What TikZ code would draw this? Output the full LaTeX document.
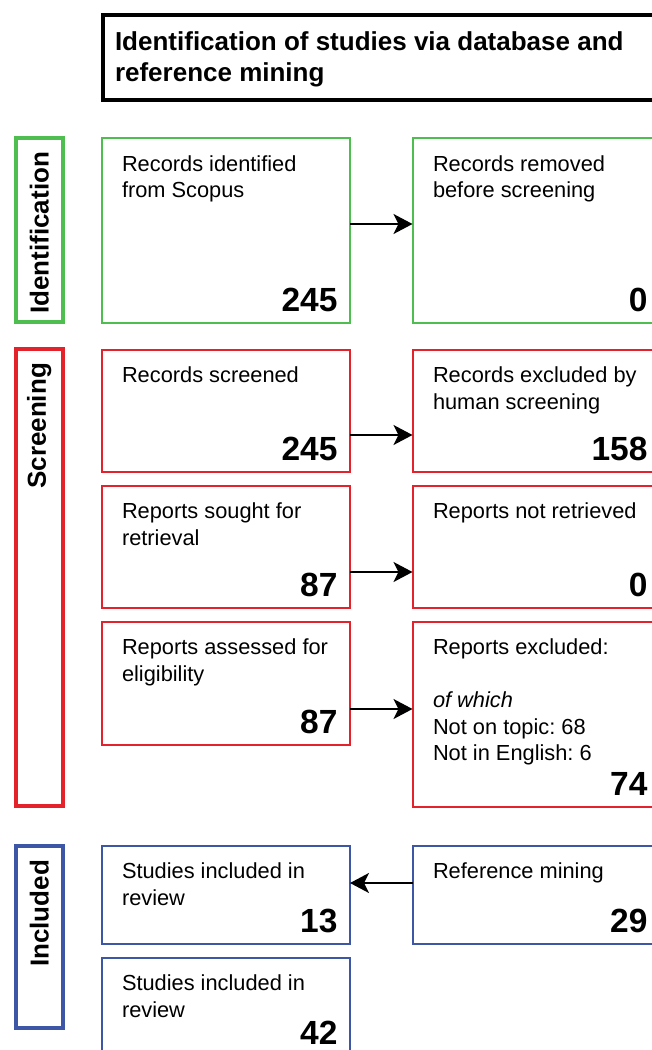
\documentclass[tikz,border=0pt]{standalone}
\usepackage{fontspec}
\setmainfont{Liberation Sans}
\usetikzlibrary{calc,arrows.meta}
\definecolor{cgreen}{RGB}{78,190,80}
\definecolor{cred}{RGB}{228,34,44}
\definecolor{cblue}{RGB}{62,86,166}
\frenchspacing
\newcommand\flowbox[8]{%
  \pgfmathsetmacro\bw{#5-#3}\pgfmathsetmacro\bh{#6-#4}%
  \node[box, draw=#2, minimum width=\bw pt, minimum height=\bh pt] (#1) at ({(#3+#5)/2},{(#4+#6)/2}) {};
  \node[lbl, anchor=north west] (#1-t) at ($(#1.north west)+(20.5,15)$) {\rule{0pt}{18pt}#7};
  \node[num, anchor=base east] (#1-n) at ($(#1.south east)+(-12.5,-11.5)$) {#8};
}
\begin{document}
\begin{tikzpicture}[x=1pt,y=-1pt,
  box/.style={rectangle, line width=2pt, inner sep=0pt, outer sep=0pt},
  sidebox/.style={rectangle, line width=4pt, inner sep=0pt, outer sep=0pt},
  lbl/.style={inner sep=0pt, outer sep=0pt, align=left, font=\fontsize{21.8}{26.6}\selectfont},
  num/.style={inner sep=0pt, outer sep=0pt, font=\fontsize{33.5}{40}\selectfont\bfseries},
  sidelbl/.style={inner sep=0pt, outer sep=0pt, rotate=90, anchor=east, font=\fontsize{26}{30}\selectfont\bfseries},
  arr/.style={line width=2pt, -{Stealth[length=19pt, width=20pt, inset=5pt]}}
]
\useasboundingbox (0,0) rectangle (652,1050);
\clip (0,0) rectangle (652,1050);
\fill[white] (0,0) rectangle (652,1050);

% title
\node[sidebox, draw=black, minimum width=567pt, minimum height=85pt] (title) at ({(103+670)/2},{(15+100)/2}) {};
\node[inner sep=0pt, outer sep=0pt, anchor=north west, align=left, font=\fontsize{26}{31}\selectfont\bfseries] (title-t) at ($(title.north west)+(12,13)$) {\rule{0pt}{22pt}Identification of studies via database and\\reference mining};

% side boxes
\node[sidebox, draw=cgreen, minimum width=47.5pt, minimum height=184pt] (sideid) at (39.25,{(138+322)/2}) {};
\node[sidelbl] (sideid-t) at ($(sideid.north)+(0,14)$) {Identification};
\node[sidebox, draw=cred, minimum width=47.5pt, minimum height=457pt] (sidesc) at (39.25,{(349+806)/2}) {};
\node[sidelbl] (sidesc-t) at ($(sidesc.north)+(0,14)$) {Screening};
\node[sidebox, draw=cblue, minimum width=47.5pt, minimum height=182pt] (sidein) at (39.25,{(846+1028)/2}) {};
\node[sidelbl] (sidein-t) at ($(sidein.north)+(0,14)$) {Included};

% identification
\flowbox{idl}{cgreen}{101.5}{138}{350}{323}{Records identified\\from Scopus}{245}
\flowbox{idr}{cgreen}{412.5}{138}{660}{323}{Records removed\\before screening}{0}
% screening
\flowbox{s1l}{cred}{101.5}{349.5}{350}{471.5}{Records screened}{245}
\flowbox{s1r}{cred}{412.5}{349.5}{660}{471.5}{Records excluded by\\human screening}{158}
\flowbox{s2l}{cred}{101.5}{485.5}{350}{607.5}{Reports sought for\\retrieval}{87}
\flowbox{s2r}{cred}{412.5}{485.5}{660}{607.5}{Reports not retrieved}{0}
\flowbox{s3l}{cred}{101.5}{621.5}{350}{744.5}{Reports assessed for\\eligibility}{87}
\flowbox{s3r}{cred}{412.5}{621.5}{660}{807}{Reports excluded:\\[26.6pt]\textit{of which}\\Not on topic: 68\\Not in English: 6}{74}
% included
\flowbox{i1l}{cblue}{101.5}{845.5}{350}{943.5}{Studies included in\\review}{13}
\flowbox{i1r}{cblue}{412.5}{845.5}{660}{943.5}{Reference mining}{29}
\flowbox{i2l}{cblue}{101.5}{957.5}{350}{1056}{Studies included in\\review}{42}

% arrows
\draw[arr] ($(idl.north east)+(0,86)$) -- ($(idr.north west)+(0,86)$);
\draw[arr] ($(s1l.north east)+(0,85.5)$) -- ($(s1r.north west)+(0,85.5)$);
\draw[arr] ($(s2l.north east)+(0,86.5)$) -- ($(s2r.north west)+(0,86.5)$);
\draw[arr] ($(s3l.north east)+(0,87.5)$) -- ($(s3r.north west)+(0,87.5)$);
\draw[arr] ($(i1r.north west)+(0,37.5)$) -- ($(i1l.north east)+(0,37.5)$);
\end{tikzpicture}
\end{document}
